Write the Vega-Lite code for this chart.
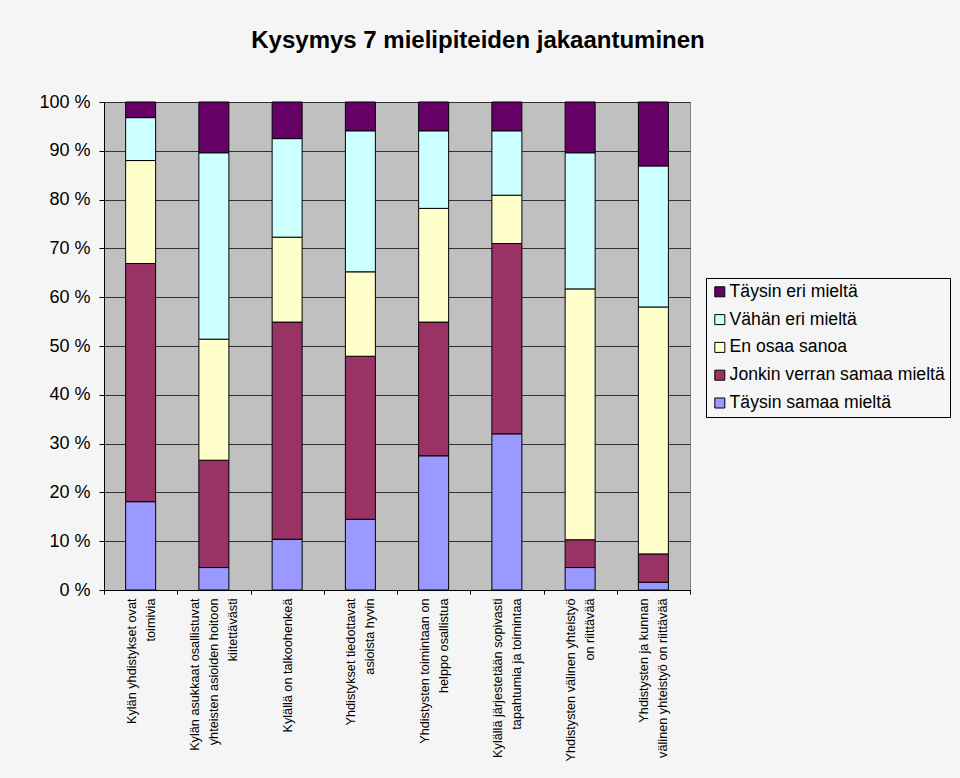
{
  "$schema": "https://vega.github.io/schema/vega-lite/v6.json",
  "width": 586,
  "height": 488,
  "autosize": {"type": "none"},
  "padding": {"left": 104, "top": 102, "right": 270, "bottom": 188},
  "background": "#F5F5F5",
  "title": {
    "text": "Kysymys 7 mielipiteiden jakaantuminen",
    "fontSize": 24,
    "fontWeight": "bold",
    "font": "Liberation Sans",
    "color": "black",
    "anchor": "middle",
    "frame": "group",
    "dx": 81,
    "baseline": "alphabetic",
    "offset": 21
  },
  "config": {
    "font": "Liberation Sans",
    "view": {"fill": "#C0C0C0", "stroke": "#808080", "strokeWidth": 1}
  },
  "data": {
    "values": [
      {"q": "Kylän yhdistykset ovat\ntoimivia", "r": "Täysin samaa mieltä", "k": 1, "v": 18.1},
      {"q": "Kylän yhdistykset ovat\ntoimivia", "r": "Jonkin verran samaa mieltä", "k": 2, "v": 48.8},
      {"q": "Kylän yhdistykset ovat\ntoimivia", "r": "En osaa sanoa", "k": 3, "v": 21.1},
      {"q": "Kylän yhdistykset ovat\ntoimivia", "r": "Vähän eri mieltä", "k": 4, "v": 8.8},
      {"q": "Kylän yhdistykset ovat\ntoimivia", "r": "Täysin eri mieltä", "k": 5, "v": 3.2},
      {"q": "Kylän asukkaat osallistuvat\nyhteisten asioiden hoitoon\nkiitettävästi", "r": "Täysin samaa mieltä", "k": 1, "v": 4.6},
      {"q": "Kylän asukkaat osallistuvat\nyhteisten asioiden hoitoon\nkiitettävästi", "r": "Jonkin verran samaa mieltä", "k": 2, "v": 22.0},
      {"q": "Kylän asukkaat osallistuvat\nyhteisten asioiden hoitoon\nkiitettävästi", "r": "En osaa sanoa", "k": 3, "v": 24.8},
      {"q": "Kylän asukkaat osallistuvat\nyhteisten asioiden hoitoon\nkiitettävästi", "r": "Vähän eri mieltä", "k": 4, "v": 38.2},
      {"q": "Kylän asukkaat osallistuvat\nyhteisten asioiden hoitoon\nkiitettävästi", "r": "Täysin eri mieltä", "k": 5, "v": 10.4},
      {"q": "Kylällä on talkoohenkeä", "r": "Täysin samaa mieltä", "k": 1, "v": 10.4},
      {"q": "Kylällä on talkoohenkeä", "r": "Jonkin verran samaa mieltä", "k": 2, "v": 44.5},
      {"q": "Kylällä on talkoohenkeä", "r": "En osaa sanoa", "k": 3, "v": 17.4},
      {"q": "Kylällä on talkoohenkeä", "r": "Vähän eri mieltä", "k": 4, "v": 20.2},
      {"q": "Kylällä on talkoohenkeä", "r": "Täysin eri mieltä", "k": 5, "v": 7.5},
      {"q": "Yhdistykset tiedottavat\nasioista hyvin", "r": "Täysin samaa mieltä", "k": 1, "v": 14.5},
      {"q": "Yhdistykset tiedottavat\nasioista hyvin", "r": "Jonkin verran samaa mieltä", "k": 2, "v": 33.4},
      {"q": "Yhdistykset tiedottavat\nasioista hyvin", "r": "En osaa sanoa", "k": 3, "v": 17.3},
      {"q": "Yhdistykset tiedottavat\nasioista hyvin", "r": "Vähän eri mieltä", "k": 4, "v": 28.9},
      {"q": "Yhdistykset tiedottavat\nasioista hyvin", "r": "Täysin eri mieltä", "k": 5, "v": 5.9},
      {"q": "Yhdistysten toimintaan on\nhelppo osallistua", "r": "Täysin samaa mieltä", "k": 1, "v": 27.5},
      {"q": "Yhdistysten toimintaan on\nhelppo osallistua", "r": "Jonkin verran samaa mieltä", "k": 2, "v": 27.4},
      {"q": "Yhdistysten toimintaan on\nhelppo osallistua", "r": "En osaa sanoa", "k": 3, "v": 23.3},
      {"q": "Yhdistysten toimintaan on\nhelppo osallistua", "r": "Vähän eri mieltä", "k": 4, "v": 15.9},
      {"q": "Yhdistysten toimintaan on\nhelppo osallistua", "r": "Täysin eri mieltä", "k": 5, "v": 5.9},
      {"q": "Kylällä järjestetään sopivasti\ntapahtumia ja toimintaa", "r": "Täysin samaa mieltä", "k": 1, "v": 32.0},
      {"q": "Kylällä järjestetään sopivasti\ntapahtumia ja toimintaa", "r": "Jonkin verran samaa mieltä", "k": 2, "v": 39.0},
      {"q": "Kylällä järjestetään sopivasti\ntapahtumia ja toimintaa", "r": "En osaa sanoa", "k": 3, "v": 9.9},
      {"q": "Kylällä järjestetään sopivasti\ntapahtumia ja toimintaa", "r": "Vähän eri mieltä", "k": 4, "v": 13.2},
      {"q": "Kylällä järjestetään sopivasti\ntapahtumia ja toimintaa", "r": "Täysin eri mieltä", "k": 5, "v": 5.9},
      {"q": "Yhdistysten välinen yhteistyö\non riittävää", "r": "Täysin samaa mieltä", "k": 1, "v": 4.6},
      {"q": "Yhdistysten välinen yhteistyö\non riittävää", "r": "Jonkin verran samaa mieltä", "k": 2, "v": 5.7},
      {"q": "Yhdistysten välinen yhteistyö\non riittävää", "r": "En osaa sanoa", "k": 3, "v": 51.4},
      {"q": "Yhdistysten välinen yhteistyö\non riittävää", "r": "Vähän eri mieltä", "k": 4, "v": 27.9},
      {"q": "Yhdistysten välinen yhteistyö\non riittävää", "r": "Täysin eri mieltä", "k": 5, "v": 10.4},
      {"q": "Yhdistysten ja kunnan\nvälinen yhteistyö on riittävää", "r": "Täysin samaa mieltä", "k": 1, "v": 1.6},
      {"q": "Yhdistysten ja kunnan\nvälinen yhteistyö on riittävää", "r": "Jonkin verran samaa mieltä", "k": 2, "v": 5.8},
      {"q": "Yhdistysten ja kunnan\nvälinen yhteistyö on riittävää", "r": "En osaa sanoa", "k": 3, "v": 50.6},
      {"q": "Yhdistysten ja kunnan\nvälinen yhteistyö on riittävää", "r": "Vähän eri mieltä", "k": 4, "v": 28.9},
      {"q": "Yhdistysten ja kunnan\nvälinen yhteistyö on riittävää", "r": "Täysin eri mieltä", "k": 5, "v": 13.1}
    ]
  },
  "mark": {"type": "bar", "stroke": "black", "strokeWidth": 1, "width": 30},
  "encoding": {
    "x": {
      "field": "q",
      "type": "nominal",
      "sort": null,
      "title": null,
      "scale": {"paddingInner": 0, "paddingOuter": 0},
      "axis": {
        "labelAngle": -90,
        "labelAlign": "right",
        "labelBaseline": "middle",
        "labelExpr": "length(split(datum.label,'\\n'))==1 ? datum.label : length(split(datum.label,'\\n'))==2 ? [pad(split(datum.label,'\\n')[0], length(split(datum.label,'\\n')[0]) + round((max(length(split(datum.label,'\\n')[0]), length(split(datum.label,'\\n')[1])) - length(split(datum.label,'\\n')[0]))*0.79), '\u00a0'), pad(split(datum.label,'\\n')[1], length(split(datum.label,'\\n')[1]) + round((max(length(split(datum.label,'\\n')[0]), length(split(datum.label,'\\n')[1])) - length(split(datum.label,'\\n')[1]))*0.79), '\u00a0')] : [pad(split(datum.label,'\\n')[0], length(split(datum.label,'\\n')[0]) + round((max(length(split(datum.label,'\\n')[0]), length(split(datum.label,'\\n')[1]), length(split(datum.label,'\\n')[2])) - length(split(datum.label,'\\n')[0]))*0.79), '\u00a0'), pad(split(datum.label,'\\n')[1], length(split(datum.label,'\\n')[1]) + round((max(length(split(datum.label,'\\n')[0]), length(split(datum.label,'\\n')[1]), length(split(datum.label,'\\n')[2])) - length(split(datum.label,'\\n')[1]))*0.79), '\u00a0'), pad(split(datum.label,'\\n')[2], length(split(datum.label,'\\n')[2]) + round((max(length(split(datum.label,'\\n')[0]), length(split(datum.label,'\\n')[1]), length(split(datum.label,'\\n')[2])) - length(split(datum.label,'\\n')[2]))*0.79), '\u00a0')]",
        "labelOffset": {
          "condition": [
            {"test": "length(split(datum.value,'\\n'))==3", "value": -19},
            {"test": "length(split(datum.value,'\\n'))==2", "value": -9.5}
          ],
          "value": 0
        },
        "labelFontSize": 12.7,
        "labelLineHeight": 19,
        "labelColor": "black",
        "labelPadding": 4,
        "labelLimit": 0,
        "tickBand": "extent",
        "tickSize": 4,
        "tickColor": "black",
        "domainColor": "black",
        "grid": false
      }
    },
    "y": {
      "field": "v",
      "type": "quantitative",
      "stack": "zero",
      "title": null,
      "scale": {"domain": [0, 100], "nice": false},
      "axis": {
        "values": [0, 10, 20, 30, 40, 50, 60, 70, 80, 90, 100],
        "labelExpr": "datum.value + ' %'",
        "labelFontSize": 18,
        "labelColor": "black",
        "labelPadding": 9,
        "tickSize": 5,
        "tickColor": "black",
        "domainColor": "black",
        "gridColor": "#303030",
        "gridWidth": 1,
        "gridOpacity": 1
      }
    },
    "color": {
      "field": "r",
      "type": "nominal",
      "scale": {
        "domain": ["Täysin eri mieltä", "Vähän eri mieltä", "En osaa sanoa", "Jonkin verran samaa mieltä", "Täysin samaa mieltä"],
        "range": ["#660066", "#CCFFFF", "#FFFFCC", "#993366", "#9999FF"]
      },
      "legend": {
        "orient": "none",
        "legendX": 602,
        "legendY": 176,
        "title": null,
        "labelFontSize": 17.6,
        "labelColor": "black",
        "labelOffset": 1,
        "symbolType": "square",
        "symbolSize": 100,
        "symbolStrokeColor": "black",
        "symbolStrokeWidth": 1,
        "symbolOpacity": 1,
        "strokeColor": "black",
        "fillColor": "#F5F5F5",
        "padding": 5,
        "rowPadding": 8.8,
        "labelLimit": 0
      }
    },
    "order": {"field": "k", "type": "quantitative", "sort": "ascending"}
  }
}
